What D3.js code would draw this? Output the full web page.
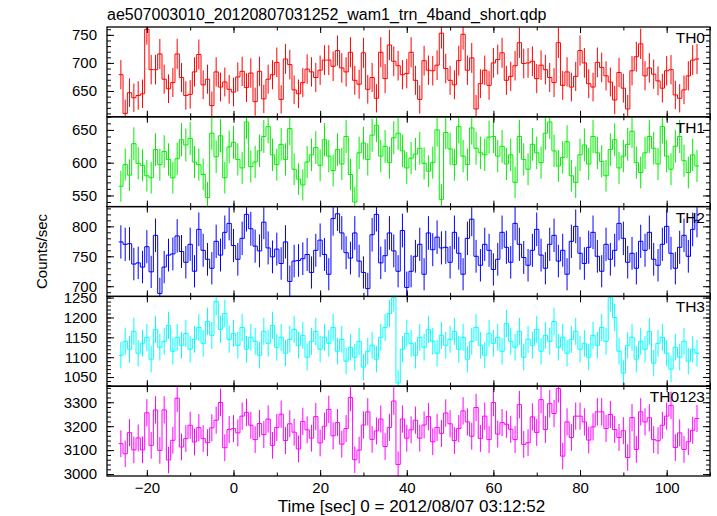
<!DOCTYPE html>
<html><head><meta charset="utf-8">
<script src="https://cdn.jsdelivr.net/npm/d3@7"></script>
<style>
body{margin:0;background:#fff}
svg{display:block}
text{font-family:"Liberation Sans",Arial,Helvetica,sans-serif;fill:#000}
</style>
</head><body>
<svg id="c" width="717" height="516"></svg>
<script>
// ---- data (counts/sec, 1-s bins, first bin centred at t=-26 s) ----
const binStart = -26, binWidth = 1;
const th0 = [679,610,647,638,642,645,760,688,688,716,671,654,665,716,674,642,644,684,715,661,671,624,684,657,666,653,648,675,685,656,682,631,685,636,671,679,701,635,707,697,652,645,665,689,684,674,687,705,705,694,722,691,684,719,669,662,
 718,653,674,637,719,672,732,703,695,679,681,719,669,635,704,687,686,696,753,690,669,661,704,751,687,709,618,663,687,660,700,706,718,669,676,695,736,699,700,703,672,696,688,674,665,736,660,684,657,676,722,700,663,657,701,
 692,677,666,634,683,655,618,686,711,734,677,691,680,668,655,686,688,643,637,652,677,705,707];
const th1 = [564,597,581,629,599,596,580,577,620,597,617,605,577,606,635,627,637,601,597,582,547,645,609,641,577,624,631,605,592,662,594,601,
 618,640,655,612,597,628,605,652,590,575,566,601,612,623,596,635,610,588,620,598,640,582,540,615,630,605,642,657,610,625,600,638,645,618,592,607,613,
 622,599,587,600,650,544,646,621,597,655,610,597,653,622,615,612,639,640,610,
 625,598,612,570,640,605,590,628,615,600,645,662,618,595,608,632,580,570,612,627,598,640,615,602,580,620,635,592,610,628,648,600,585,615,640,622,598,655,610,590,625,640,603,585,612,595];
const th2 = [774,770,771,737,739,732,766,724,785,688,732,752,754,784,
 758,740,770,725,795,760,745,730,775,752,790,805,768,745,780,820,
 796,767,759,807,764,749,762,738,774,708,742,743,746,753,723,760,777,753,720,813,821,789,756,747,789,742,723,696,786,820,739,751,789,759,725,793,698,725,750,770,720,789,761,782,764,
 765,740,790,755,720,780,812,750,735,770,760,728,745,790,765,740,805,770,748,735,760,795,752,730,770,785,742,760,720,775,800,755,738,765,790,750,725,770,745,760,805,780,740,755,730,775,760,790,745,735,770,800,755,730,765,785,750,795,810];
const th3 = [1105,1140,1120,1165,1110,1135,1150,1095,1170,1125,1140,1180,1115,1150,1130,1160,1120,1145,1175,1135,1190,1155,1240,1170,1210,1145,
 1160,1130,1175,1120,1150,1140,1105,1165,1135,1180,1125,1150,1110,1145,1170,1130,1155,1100,1140,1165,1120,1150,1135,1175,1115,1145,
 1090,1125,1100,1140,1075,1115,1130,1095,1150,1175,1210,1250,1035,1120,1160,1135,1105,1150,1125,1170,1140,1110,1155,1130,1145,1165,
 1120,1150,1095,1140,1175,1130,1105,1160,1135,1150,1115,1185,1140,1125,1165,1100,1145,1130,1170,1115,1155,1140,1190,1125,1150,1110,
 1145,1165,1120,1135,1100,1155,1130,1175,1140,1250,1200,1115,1060,1130,1150,1095,1140,1120,1165,1085,1135,1150,1110,1070,1125,1100,
 1140,1090,1120,1110];
const th0123 = [3127,3085,3173,3101,3151,3101,3256,3120,3268,3099,3268,3059,3141,3317,3113,3148,3204,3134,3194,3148,3131,3193,3225,3299,3110,3186,3190,3172,3242,3258,3204,3144,3211,
 3165,3230,3120,3195,3250,3140,3210,3175,3105,3220,3185,3150,3240,3130,3200,3270,3160,3215,3125,3190,3320,3060,3100,3205,3260,3145,3180,3230,3115,3195,3305,3040,3230,3150,3185,3225,3150,3205,3240,3135,3195,3170,3255,3210,3140,3190,
 3264,3218,3158,3278,3149,3242,3144,3299,3167,3215,3208,3187,3144,3290,3124,3131,3239,3174,3311,3186,3294,3253,3357,3075,3218,3153,3242,3242,3218,3142,3197,3260,3260,3190,3249,3186,3153,3181,3069,3236,3103,3260,3218,3235,3144,3139,3204,3242,3287,3111,3172,3103,3135,3183,3232];

const series = [th0, th1, th2, th3, th0123];
const bandNames = ["TH0","TH1","TH2","TH3","TH0123"];
const yDomains = [[604,764],[533,670],[683,833],[1027,1253],[2992,3367]];
const yTickLabels = [[650,700,750],[550,600,650],[700,750,800],[1050,1100,1150,1200,1250],[3000,3100,3200,3300]];
const yMinorStep = [10,10,10,10,20];
const xDomain = [-29.2, 110];
const xTickLabels = [-20,0,20,40,60,80,100];
const xMinorStep = 10;
const titleText = "ae507003010_20120807031252_wam1_trn_4band_short.qdp";
const xLabelText = "Time [sec] 0 = 2012/08/07 03:12:52";
const yLabelText = "Counts/sec";
const colors = ["#ff0000","#00ee00","#0000ff","#00ffff","#ff00ff"];

// ---- layout ----
const L = 107, R = 710, T = 27, B = 476;
const ph = (B - T) / series.length;
const svg = d3.select("#c");
const x = d3.scaleLinear().domain(xDomain).range([L, R]);
const xMinor = d3.range(-20, 111, xMinorStep);
const FS = 15;

svg.append("text").attr("x", L).attr("y", 20).attr("font-size", 16).text(titleText);

series.forEach((vals, i) => {
  const top = T + i * ph, bot = top + ph;
  const y = d3.scaleLinear().domain(yDomains[i]).range([bot, top]);
  const g = svg.append("g");
  const cid = "clip" + i;
  svg.append("clipPath").attr("id", cid).append("rect")
     .attr("x", L).attr("y", top).attr("width", R - L).attr("height", ph);

  const pts = vals.map((v, k) => ({t: binStart + k * binWidth, v: v, e: Math.sqrt(v / binWidth)}));
  const dg = g.append("g").attr("clip-path", `url(#${cid})`);
  dg.selectAll("line.err").data(pts).join("line").attr("class","err")
    .attr("x1", d => x(d.t)).attr("x2", d => x(d.t))
    .attr("y1", d => y(d.v - d.e)).attr("y2", d => y(d.v + d.e))
    .attr("stroke", colors[i]).attr("stroke-width", 1);
  const stepPts = pts.map(d => [d.t - binWidth / 2, d.v]);
  const last = pts[pts.length - 1];
  stepPts.push([last.t + binWidth / 2, last.v]);
  const line = d3.line().x(d => x(d[0])).y(d => y(d[1])).curve(d3.curveStepAfter);
  dg.append("path").attr("d", line(stepPts)).attr("fill", "none")
    .attr("stroke", colors[i]).attr("stroke-width", 1);

  const minor = d3.range(Math.ceil(yDomains[i][0] / yMinorStep[i]) * yMinorStep[i], yDomains[i][1] + 0.001, yMinorStep[i]);
  const styleAxis = sel => { sel.select(".domain").remove(); sel.selectAll("line").attr("stroke", "#000"); sel.selectAll("text").attr("font-size", FS).attr("fill", "#000"); sel.attr("font-family", null).attr("font-size", null); };
  g.append("g").attr("transform", `translate(${L},0)`)
    .call(d3.axisLeft(y).tickValues(minor).tickSize(-4).tickFormat("")).call(styleAxis);
  g.append("g").attr("transform", `translate(${L},0)`)
    .call(d3.axisLeft(y).tickValues(yTickLabels[i]).tickSize(-7).tickPadding(10).tickFormat(d3.format("d"))).call(styleAxis);
  g.append("g").attr("transform", `translate(${R},0)`)
    .call(d3.axisRight(y).tickValues(minor).tickSize(-4).tickFormat("")).call(styleAxis);
  g.append("g").attr("transform", `translate(${R},0)`)
    .call(d3.axisRight(y).tickValues(yTickLabels[i]).tickSize(-7).tickFormat("")).call(styleAxis);
  g.append("g").attr("transform", `translate(0,${top})`)
    .call(d3.axisTop(x).tickValues(xMinor).tickSize(-3.5).tickFormat("")).call(styleAxis);
  g.append("g").attr("transform", `translate(0,${top})`)
    .call(d3.axisTop(x).tickValues(xTickLabels).tickSize(-6).tickFormat("")).call(styleAxis);
  g.append("g").attr("transform", `translate(0,${bot})`)
    .call(d3.axisBottom(x).tickValues(xMinor).tickSize(-3.5).tickFormat("")).call(styleAxis);
  g.append("g").attr("transform", `translate(0,${bot})`)
    .call(d3.axisBottom(x).tickValues(xTickLabels).tickSize(-6).tickPadding(6)
      .tickFormat(i === series.length - 1 ? (d => d < 0 ? "\u2212" + Math.abs(d) : d) : ""))
    .call(styleAxis);

  g.append("rect").attr("x", L).attr("y", top).attr("width", R - L).attr("height", ph)
    .attr("fill", "none").attr("stroke", "#000").attr("stroke-width", 1.3);
  g.append("text").attr("x", 705).attr("y", top + 16).attr("text-anchor", "end")
    .attr("font-size", 15.5).text(bandNames[i]);
});

svg.append("text").attr("transform", `translate(47,${(T + B) / 2}) rotate(-90)`)
  .attr("text-anchor", "middle").attr("font-size", FS).text(yLabelText);
svg.append("text").attr("x", (L + R) / 2 + 3).attr("y", 512).attr("text-anchor", "middle")
  .attr("font-size", 17).text(xLabelText);
</script>
</body></html>
